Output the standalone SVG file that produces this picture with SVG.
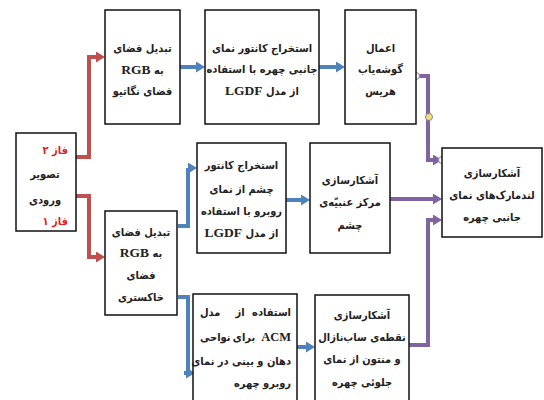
<svg xmlns="http://www.w3.org/2000/svg" width="544" height="400" viewBox="0 0 544 400">
<defs>
<style>
.box{fill:#fff;stroke:#111;stroke-width:1.5}
text{font-family:"DejaVu Sans Condensed","DejaVu Sans",sans-serif;font-size:11px;font-weight:bold;fill:#222}
.lat{font-family:"Liberation Serif",serif;font-size:13.5px;font-weight:bold;fill:#222}
.red{fill:#e01e1e}
.c{fill:none;stroke-width:4;stroke-linejoin:miter}
.r{stroke:#c0504d}.b{stroke:#4f81bd}.p{stroke:#8064a2}
.dot{stroke:#888;stroke-width:1}
</style>
<marker id="ar" markerUnits="userSpaceOnUse" markerWidth="9" markerHeight="11" refX="0" refY="5.5" orient="auto"><path d="M0,0 L9,5.5 L0,11 z" fill="#c0504d"/></marker>
<marker id="ab" markerUnits="userSpaceOnUse" markerWidth="9" markerHeight="11" refX="0" refY="5.5" orient="auto"><path d="M0,0 L9,5.5 L0,11 z" fill="#4f81bd"/></marker>
<marker id="ap" markerUnits="userSpaceOnUse" markerWidth="9" markerHeight="11" refX="0" refY="5.5" orient="auto"><path d="M0,0 L9,5.5 L0,11 z" fill="#8064a2"/></marker>
</defs>
<rect width="544" height="400" fill="#fff"/>
<g id="connectors">
<path class="c r" d="M76,157 H89 V57 H96" marker-end="url(#ar)"/>
<path class="c r" d="M76,196 H89 V257 H96" marker-end="url(#ar)"/>
<path class="c b" d="M180,67 H196" marker-end="url(#ab)"/>
<path class="c b" d="M319,67 H336" marker-end="url(#ab)"/>
<path class="c p" d="M416,76 H428 V160 H433" marker-end="url(#ap)"/>
<path class="c b" d="M178,226 H188 V168 H188" marker-end="url(#ab)"/>
<path class="c b" d="M286,200 H301" marker-end="url(#ab)"/>
<path class="c p" d="M390,199 H433" marker-end="url(#ap)"/>
<path class="c b" d="M178,297 H188 V373 H184"/>
<path class="c b" d="M186,373 H186" marker-end="url(#ab)"/>
<path class="c b" d="M297,347 H306" marker-end="url(#ab)"/>
<path class="c p" d="M409,345 H428 V220 H433" marker-end="url(#ap)"/>
<circle class="dot" cx="416" cy="76" r="3.5" fill="#fff"/>
<circle class="dot" cx="429" cy="117" r="3.5" fill="#f3e07a"/>
<circle class="dot" cx="442" cy="160" r="3.5" fill="#fff"/>
</g>
<g id="input">
<rect class="box" x="16" y="133" width="60" height="98"/>
<text class="red" x="68" y="154" text-anchor="end">فاز ۲</text>
<text x="45" y="178" text-anchor="middle">تصویر</text>
<text x="45" y="204" text-anchor="middle">ورودی</text>
<text class="red" x="68" y="225" text-anchor="end">فاز ۱</text>
</g>
<g id="rgb-neg">
<rect class="box" x="105" y="10" width="75" height="114"/>
<text x="142.5" y="52" text-anchor="middle">تبدیل فضای</text>
<text x="142.5" y="74" text-anchor="middle" direction="rtl">به <tspan class="lat">RGB</tspan></text>
<text x="142.5" y="95" text-anchor="middle">فضای نگاتیو</text>
</g>
<g id="lgdf-side">
<rect class="box" x="205" y="10" width="114" height="114"/>
<text x="262" y="52" text-anchor="middle">استخراج کانتور نمای</text>
<text x="262" y="73" text-anchor="middle">جانبی چهره با استفاده</text>
<text x="262" y="95" text-anchor="middle" direction="rtl">از مدل <tspan class="lat">LGDF</tspan></text>
</g>
<g id="harris">
<rect class="box" x="345" y="10" width="71" height="114"/>
<text x="380.5" y="52" text-anchor="middle">اعمال</text>
<text x="380.5" y="73" text-anchor="middle">گوشه&#x200C;یاب</text>
<text x="380.5" y="95" text-anchor="middle">هریس</text>
</g>
<g id="landmarks">
<rect class="box" x="442" y="148" width="100" height="89"/>
<text x="492" y="177" text-anchor="middle">آشکارسازی</text>
<text x="492" y="199" text-anchor="middle">لندمارک&#x200C;های نمای</text>
<text x="492" y="221" text-anchor="middle">جانبی چهره</text>
</g>
<g id="eye-contour">
<rect class="box" x="197" y="143" width="89" height="110"/>
<text x="241.5" y="169" text-anchor="middle">استخراج کانتور</text>
<text x="241.5" y="193" text-anchor="middle">چشم از نمای</text>
<text x="241.5" y="215" text-anchor="middle">روبرو با استفاده</text>
<text x="241.5" y="237" text-anchor="middle" direction="rtl">از مدل <tspan class="lat">LGDF</tspan></text>
</g>
<g id="iris">
<rect class="box" x="310" y="143" width="80" height="110"/>
<text x="350" y="184" text-anchor="middle">آشکارسازی</text>
<text x="350" y="206" text-anchor="middle">مرکز عنبیّه&#x200C;ی</text>
<text x="350" y="229" text-anchor="middle">چشم</text>
</g>
<g id="rgb-gray">
<rect class="box" x="105" y="211" width="72" height="104"/>
<text x="141" y="236" text-anchor="middle">تبدیل فضای</text>
<text x="141" y="257" text-anchor="middle" direction="rtl">به <tspan class="lat">RGB</tspan></text>
<text x="141" y="279" text-anchor="middle">فضای</text>
<text x="141" y="301" text-anchor="middle">خاکستری</text>
</g>
<g id="acm">
<rect class="box" x="193" y="294" width="104" height="110"/>
<text x="291" y="316" text-anchor="end">استفاده</text>
<text x="240" y="316" text-anchor="middle">از</text>
<text x="200" y="316" text-anchor="start">مدل</text>
<text class="lat" x="291" y="341" text-anchor="end" style="font-size:12.5px">ACM</text>
<text x="244" y="341" text-anchor="middle">برای</text>
<text x="200" y="341" text-anchor="start">نواحی</text>
<text x="291" y="365" text-anchor="end">دهان و بینی در نمای</text>
<text x="291" y="387" text-anchor="end">روبرو چهره</text>
</g>
<g id="subnasal">
<rect class="box" x="315" y="295" width="94" height="110"/>
<text x="362" y="319" text-anchor="middle">آشکارسازی</text>
<text x="362" y="341" text-anchor="middle">نقطه&#x200C;ی ساب&#x200C;نازال</text>
<text x="362" y="363" text-anchor="middle">و منتون از نمای</text>
<text x="362" y="386" text-anchor="middle">جلوئی چهره</text>
</g>
</svg>
